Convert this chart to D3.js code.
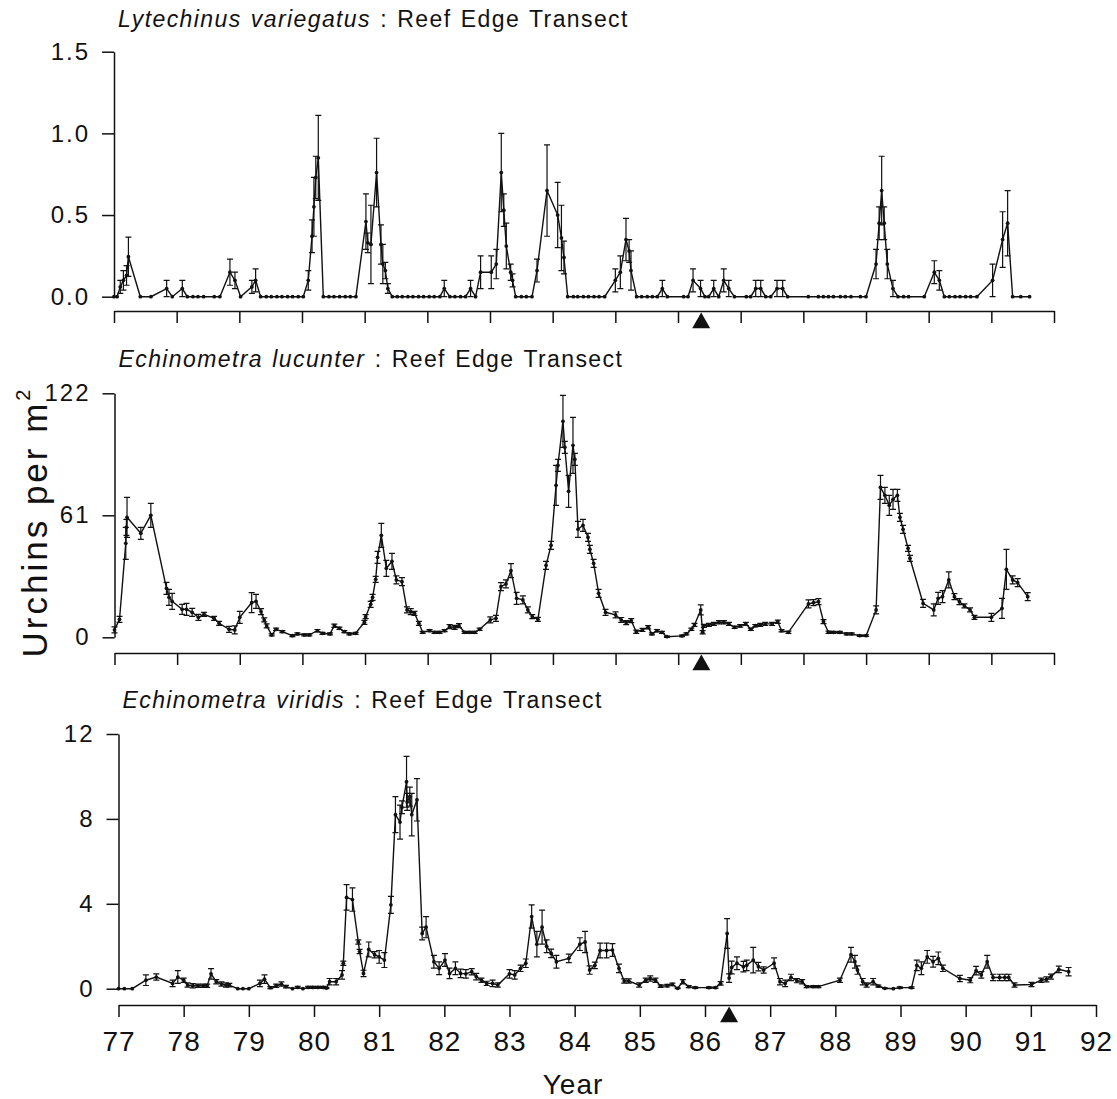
<!DOCTYPE html>
<html>
<head>
<meta charset="utf-8">
<script src="https://cdn.jsdelivr.net/npm/d3@7/dist/d3.min.js"></script>
<style>
  body { margin: 0; background: #fff; }
  text { font-family: "Liberation Sans", Arial, sans-serif; fill: #111; }
</style>
</head>
<body>
<div id="chart"></div>
<script>
const WIDTH = 1117;
const HEIGHT = 1099;

const years = d3.range(77, 93);
const eventYear = 86.37;   // filled triangle under each x axis

// [year, mean, standard error]
const lytechinus = [
  [77.00,0,0],[77.05,0,0],[77.10,0.06,0.04],[77.15,0.10,0.06],[77.20,0.13,0.06],[77.23,0.245,0.12],
  [77.42,0,0],[77.59,0,0],[77.84,0.05,0.05],[77.93,0,0],[78.09,0.05,0.05],[78.17,0,0],[78.26,0,0],
  [78.34,0,0],[78.43,0,0],[78.60,0,0],[78.69,0,0],[78.85,0.15,0.08],[78.93,0.10,0.05],[79.02,0,0],
  [79.20,0.06,0.04],[79.26,0.10,0.07],[79.34,0,0],[79.43,0,0],[79.51,0,0],[79.60,0,0],[79.68,0,0],
  [79.77,0,0],[79.85,0,0],[79.94,0,0],[80.02,0,0],[80.10,0.10,0.06],[80.16,0.37,0.10],[80.19,0.55,0.18],
  [80.22,0.73,0.13],[80.26,0.85,0.26],[80.34,0,0],[80.43,0,0],[80.51,0,0],[80.60,0,0],[80.69,0,0],
  [80.77,0,0],[80.86,0,0],[81.02,0.46,0.17],[81.05,0.33,0.06],[81.10,0.32,0.24],[81.19,0.76,0.21],
  [81.26,0.32,0.12],[81.29,0.20,0.12],[81.33,0.16,0.05],[81.37,0.05,0.03],[81.44,0,0],[81.52,0,0],
  [81.60,0,0],[81.69,0,0],[81.77,0,0],[81.86,0,0],[81.94,0,0],[82.03,0,0],[82.11,0,0],[82.20,0,0],
  [82.27,0.05,0.05],[82.36,0,0],[82.44,0,0],[82.53,0,0],[82.61,0,0],[82.69,0.05,0.05],[82.77,0,0],
  [82.85,0.15,0.10],[83.02,0.15,0.10],[83.10,0.20,0.09],[83.18,0.76,0.24],[83.22,0.53,0.10],
  [83.26,0.31,0.14],[83.33,0.15,0.05],[83.36,0.10,0.04],[83.41,0,0],[83.50,0,0],[83.58,0,0],
  [83.67,0,0],[83.75,0.16,0.07],[83.91,0.65,0.28],[84.08,0.50,0.20],[84.14,0.36,0.20],[84.18,0.24,0.10],
  [84.24,0,0],[84.33,0,0],[84.40,0,0],[84.49,0,0],[84.57,0,0],[84.66,0,0],[84.74,0,0],[84.83,0,0],
  [85.00,0.10,0.07],[85.08,0.15,0.10],[85.17,0.35,0.13],[85.22,0.28,0.07],[85.25,0.16,0.12],[85.34,0,0],
  [85.42,0,0],[85.51,0,0],[85.59,0,0],[85.67,0,0],[85.75,0.05,0.05],[85.83,0,0],[86.09,0,0],[86.16,0,0],
  [86.24,0.10,0.07],[86.36,0.05,0.05],[86.43,0,0],[86.49,0,0],[86.57,0.05,0.05],[86.65,0,0],
  [86.73,0.10,0.07],[86.81,0.05,0.05],[86.90,0,0],[87.09,0,0],[87.16,0,0],[87.24,0.05,0.05],
  [87.32,0.05,0.05],[87.40,0,0],[87.48,0,0],[87.58,0.05,0.05],[87.67,0.05,0.05],[87.75,0,0],
  [88.08,0,0],[88.24,0,0],[88.32,0,0],[88.40,0,0],[88.48,0,0],[88.59,0,0],[88.67,0,0],[88.76,0,0],
  [88.91,0,0],[89.00,0,0],[89.16,0.20,0.09],[89.21,0.45,0.10],[89.25,0.65,0.21],[89.29,0.45,0.10],
  [89.34,0.20,0.09],[89.43,0.05,0.05],[89.51,0,0],[89.60,0,0],[89.68,0,0],[89.93,0,0],
  [90.09,0.15,0.07],[90.17,0.10,0.06],[90.25,0,0],[90.33,0,0],[90.42,0,0],[90.50,0,0],[90.59,0,0],
  [90.67,0,0],[90.77,0,0],[91.02,0.10,0.10],[91.18,0.35,0.17],[91.26,0.45,0.20],[91.34,0,0],
  [91.47,0,0],[91.61,0,0]
];

const lucunter = [
  [77.00,3.7,1.5],[77.08,9,1.5],[77.18,47,8],[77.19,55,4],[77.20,60,10],[77.42,52,3],[77.58,61,6],
  [77.83,24.5,3],[77.87,20,4],[77.92,18,4],[78.08,14,2.5],[78.15,14,3],[78.24,12.5,2],[78.34,10,1.5],
  [78.43,11.5,1],[78.59,9.5,1],[78.67,7,1],[78.83,4,1.5],[78.92,3.7,2],[79.00,10,3],[79.19,17.3,5],
  [79.26,18,3.5],[79.34,12.8,1.5],[79.39,8.7,1],[79.43,5.7,1],[79.51,1.2,0.5],[79.58,4,0.6],
  [79.68,2.8,0.5],[79.84,0.8,0.5],[79.92,1.7,0.5],[80.03,1.2,0.5],[80.11,1.2,0.5],[80.24,3.3,0.6],
  [80.32,2,0.5],[80.44,1.7,0.5],[80.51,5.8,0.8],[80.59,4.5,0.6],[80.67,2.8,0.5],[80.75,1.7,0.5],
  [80.85,2,0.5],[80.99,7.5,1],[81.01,10.3,1],[81.09,16.5,1.5],[81.12,20,1.5],[81.17,29,1.5],
  [81.20,40,3],[81.26,51,6],[81.34,34.5,4],[81.43,38,4],[81.50,28.7,2],[81.59,27.8,2],[81.67,13.7,1.5],
  [81.73,12.8,1.5],[81.79,12,1],[81.86,7,1],[81.92,2.5,0.5],[82.03,3.3,0.5],[82.11,2.5,0.5],
  [82.19,2.5,0.5],[82.27,3.3,0.5],[82.35,5.3,1],[82.43,5,1],[82.50,5.8,1],[82.59,2.5,0.5],
  [82.67,2.5,0.5],[82.75,2.5,0.5],[82.83,4,0.6],[83.00,8.7,1.5],[83.09,9.5,1.5],[83.17,25.3,2],
  [83.25,26.7,2],[83.33,33.3,3.5],[83.42,19.5,3],[83.52,18.7,2],[83.60,13.7,1.5],[83.67,10.3,1],
  [83.76,9,1],[83.89,36,2],[83.97,46,2],[84.05,76,10],[84.08,86,3],[84.16,108,13],[84.19,95,3],
  [84.25,73,8],[84.32,96,14],[84.35,89,3],[84.40,54,4],[84.48,56,3],[84.56,50,2],[84.59,44,2],
  [84.65,37,2],[84.73,22,2],[84.84,12.5,1.5],[85.00,11.2,1.5],[85.09,8.7,1.2],[85.17,7.3,1],
  [85.25,8.3,1],[85.33,2.8,0.8],[85.43,3.7,0.8],[85.52,5,0.8],[85.58,1.7,0.5],[85.66,3.3,0.6],
  [85.74,2.5,0.5],[85.82,0.3,0.3],[86.06,0.7,0.4],[86.13,1.7,0.5],[86.21,4,0.6],[86.26,6.2,0.8],
  [86.36,13.7,2.5],[86.39,2.5,0.8],[86.41,5.7,0.8],[86.49,6.2,0.8],[86.57,6.7,0.8],[86.65,7.5,0.8],
  [86.73,7.5,0.8],[86.81,6.7,0.8],[86.90,5,0.6],[86.99,5.7,0.6],[87.08,6.7,0.8],[87.16,4,0.6],
  [87.23,5.8,0.6],[87.31,6.2,0.8],[87.39,6.7,0.8],[87.50,6.7,0.8],[87.59,7.8,0.8],[87.65,3.3,0.6],
  [87.76,2.5,0.6],[88.08,16.7,2],[88.16,17.3,1.5],[88.24,17.8,1.5],[88.32,7.8,1],[88.40,2.5,0.6],
  [88.48,2.5,0.5],[88.58,2.5,0.5],[88.69,1.7,0.5],[88.77,1.7,0.5],[88.90,0.8,0.4],[89.00,0.8,0.4],
  [89.16,13.7,2],[89.23,75,6],[89.30,71,4],[89.37,66,5],[89.43,69,5],[89.50,71,3],[89.54,60,2],
  [89.59,54,2],[89.67,44.5,1.5],[89.70,39.5,1.5],[89.91,17,2],[90.08,13.7,3],[90.15,19.5,3],
  [90.22,20.3,3],[90.32,28.7,4],[90.41,20.3,1.5],[90.49,17.8,1.5],[90.57,15.7,1],[90.66,13.7,1],
  [90.73,10,1],[91.00,10,2],[91.17,14.5,5],[91.24,34,10],[91.34,28.7,2],[91.42,27.3,2],[91.58,20.3,2]
];

const viridis = [
  [77.00,0,0],[77.09,0,0],[77.21,0,0],[77.42,0.4,0.25],[77.58,0.55,0.15],[77.83,0.25,0.15],
  [77.91,0.55,0.3],[78.00,0.4,0.1],[78.06,0.17,0.1],[78.14,0.14,0.1],[78.22,0.14,0.08],[78.30,0.14,0.08],
  [78.36,0.14,0.08],[78.42,0.7,0.25],[78.50,0.33,0.1],[78.58,0.22,0.1],[78.65,0.17,0.1],[78.70,0.17,0.08],
  [78.83,0,0],[78.91,0,0],[79.00,0,0],[79.17,0.25,0.15],[79.24,0.45,0.2],[79.33,0.05,0.05],
  [79.42,0.14,0.08],[79.50,0.22,0.1],[79.57,0.1,0.06],[79.67,0,0],[79.75,0.06,0.05],[79.83,0,0],
  [79.91,0.06,0.05],[79.98,0.06,0.05],[80.06,0.06,0.05],[80.14,0.06,0.05],[80.19,0.03,0.03],
  [80.24,0.33,0.15],[80.34,0.33,0.15],[80.43,0.65,0.2],[80.45,1.2,0.1],[80.50,4.3,0.6],[80.59,4.2,0.55],
  [80.68,2.2,0.1],[80.70,1.75,0.1],[80.76,0.72,0.15],[80.84,1.85,0.35],[80.93,1.6,0.15],[81.00,1.5,0.3],
  [81.08,1.35,0.35],[81.18,3.95,0.4],[81.25,8.2,0.85],[81.32,7.85,0.8],[81.35,8.55,0.3],[81.42,9.75,1.2],
  [81.43,8.8,0.4],[81.47,9.05,0.45],[81.50,8.2,1.0],[81.58,8.9,1.0],[81.66,2.6,0.3],[81.72,2.9,0.5],
  [81.84,1.27,0.3],[81.92,0.96,0.3],[82.01,1.35,0.3],[82.08,0.72,0.25],[82.17,0.96,0.3],[82.25,0.72,0.2],
  [82.33,0.7,0.2],[82.42,0.8,0.15],[82.49,0.57,0.15],[82.57,0.4,0.1],[82.65,0.25,0.1],[82.74,0.25,0.15],
  [82.82,0.17,0.1],[83.00,0.7,0.2],[83.08,0.65,0.2],[83.17,0.96,0.15],[83.25,1.2,0.2],[83.34,3.4,0.55],
  [83.42,2.1,0.6],[83.50,2.9,0.8],[83.57,2.0,0.3],[83.64,1.66,0.2],[83.72,1.27,0.3],[83.91,1.43,0.2],
  [84.08,2.1,0.3],[84.16,2.2,0.5],[84.23,0.88,0.2],[84.31,1.1,0.15],[84.39,1.8,0.35],[84.49,1.8,0.35],
  [84.58,1.82,0.3],[84.68,0.96,0.2],[84.76,0.36,0.1],[84.83,0.36,0.1],[84.99,0.17,0.1],[85.09,0.4,0.1],
  [85.16,0.48,0.12],[85.24,0.4,0.1],[85.32,0.12,0.06],[85.42,0.14,0.06],[85.50,0.2,0.06],[85.58,0.02,0.02],
  [85.66,0.33,0.1],[85.75,0.1,0.05],[85.85,0.05,0.04],[86.06,0.05,0.04],[86.16,0.05,0.04],[86.24,0.25,0.08],
  [86.34,2.6,0.7],[86.37,0.5,0.2],[86.41,1.0,0.3],[86.49,1.2,0.3],[86.59,1.04,0.25],[86.64,1.1,0.25],
  [86.74,1.35,0.6],[86.82,1.04,0.2],[86.90,0.88,0.15],[87.06,1.2,0.25],[87.15,0.33,0.15],[87.23,0.25,0.15],
  [87.32,0.53,0.15],[87.41,0.38,0.1],[87.49,0.33,0.1],[87.56,0.1,0.05],[87.66,0.1,0.05],[87.74,0.1,0.05],
  [88.07,0.4,0.1],[88.24,1.6,0.35],[88.30,1.27,0.3],[88.34,0.88,0.2],[88.42,0.33,0.15],[88.48,0.17,0.1],
  [88.58,0.33,0.15],[88.66,0.12,0.05],[88.76,0.02,0.02],[88.89,0,0],[88.99,0.05,0.04],[89.17,0.05,0.04],
  [89.25,1.1,0.25],[89.32,0.96,0.3],[89.41,1.5,0.3],[89.50,1.27,0.25],[89.58,1.43,0.3],[89.65,0.96,0.15],
  [89.91,0.48,0.15],[90.07,0.4,0.12],[90.16,0.85,0.2],[90.24,0.65,0.15],[90.33,1.27,0.3],[90.42,0.53,0.15],
  [90.52,0.53,0.15],[90.60,0.53,0.15],[90.66,0.53,0.15],[90.75,0.17,0.1],[91.01,0.2,0.1],[91.16,0.4,0.1],
  [91.24,0.44,0.12],[91.31,0.57,0.12],[91.43,0.91,0.15],[91.58,0.8,0.2]
];

const panels = [
  { species: "Lytechinus variegatus", sep: " :  ", data: lytechinus,
    yMax: 1.5, yTicks: [0, 0.5, 1, 1.5], fmt: d3.format(".1f"),
    left: 114, right: 1054, top: 51.7, bottom: 296.7, axisY: 311, titleY: 27, labels: false },
  { species: "Echinometra lucunter", sep: " :  ", data: lucunter,
    yMax: 122, yTicks: [0, 61, 122], fmt: d3.format("d"),
    left: 114.5, right: 1054, top: 393.3, bottom: 637.3, axisY: 653, titleY: 367, labels: false },
  { species: "Echinometra  viridis", sep: " : ", data: viridis,
    yMax: 12, yTicks: [0, 4, 8, 12], fmt: d3.format("d"),
    left: 118.5, right: 1096, top: 734, bottom: 988.7, axisY: 1005, titleY: 708, labels: true }
];

const svg = d3.select("#chart")
  .append("svg")
    .attr("width", WIDTH)
    .attr("height", HEIGHT);

panels.forEach((p) => {
  const x = d3.scaleLinear().domain([77, 92]).range([p.left, p.right]);
  const y = d3.scaleLinear().domain([0, p.yMax]).range([p.bottom, p.top]);
  const g = svg.append("g");

  // title
  const title = g.append("text")
    .attr("x", p.left + 4)
    .attr("y", p.titleY)
    .attr("font-size", 23)
    .attr("letter-spacing", 1.4)
    .attr("word-spacing", 1.5);
  title.append("tspan").attr("font-style", "italic").text(p.species);
  title.append("tspan").text(p.sep + "Reef Edge Transect");

  // y axis
  const yAxis = g.append("g")
    .attr("transform", `translate(${p.left},0)`)
    .call(d3.axisLeft(y).tickValues(p.yTicks).tickFormat(p.fmt).tickSize(12).tickSizeOuter(0).tickPadding(12));
  yAxis.selectAll("text").attr("font-size", 24).attr("letter-spacing", 2).style("font-family", "Liberation Sans, Arial, sans-serif");

  // x axis
  const xAxis = g.append("g")
    .attr("transform", `translate(0,${p.axisY})`)
    .call(d3.axisBottom(x).tickValues(years).tickSize(12).tickSizeOuter(0).tickPadding(14)
      .tickFormat(p.labels ? d3.format("d") : ""));
  xAxis.selectAll("text").attr("font-size", 28).attr("letter-spacing", 1).style("font-family", "Liberation Sans, Arial, sans-serif");

  g.selectAll(".domain, .tick line").attr("stroke", "#111").attr("stroke-width", 1.5);

  // error bars
  const withErr = p.data.filter((d) => d[2] > 0);
  g.selectAll(".err")
    .data(withErr)
    .enter()
    .append("path")
      .attr("class", "err")
      .attr("fill", "none")
      .attr("stroke", "#111")
      .attr("stroke-width", 1.2)
      .attr("d", (d) => {
        const cx = x(d[0]);
        const y0 = y(Math.max(0, d[1] - d[2]));
        const y1 = y(d[1] + d[2]);
        return `M${cx - 3},${y0}H${cx + 3}M${cx},${y0}V${y1}M${cx - 3},${y1}H${cx + 3}`;
      });

  // mean line
  g.append("path")
    .datum(p.data)
    .attr("fill", "none")
    .attr("stroke", "#111")
    .attr("stroke-width", 1.4)
    .attr("d", d3.line().x((d) => x(d[0])).y((d) => y(d[1])));

  g.selectAll(".pt")
    .data(p.data)
    .enter()
    .append("circle")
      .attr("class", "pt")
      .attr("fill", "#111")
      .attr("cx", (d) => x(d[0]))
      .attr("cy", (d) => y(d[1]))
      .attr("r", 1.9);

  // event marker
  g.append("path")
    .attr("d", d3.symbol(d3.symbolTriangle, 140)())
    .attr("fill", "#111")
    .attr("transform", `translate(${x(eventYear)},${p.axisY + 12})`);
});

// shared axis titles
svg.append("text")
  .attr("x", 573)
  .attr("y", 1094)
  .attr("text-anchor", "middle")
  .attr("font-size", 28)
  .attr("letter-spacing", 1)
  .text("Year");

const yLabel = svg.append("text")
  .attr("transform", "translate(47,522) rotate(-90)")
  .attr("text-anchor", "middle")
  .attr("font-size", 35)
  .attr("letter-spacing", 3);
yLabel.append("tspan").text("Urchins per m");
yLabel.append("tspan").attr("font-size", 20).attr("dy", -17).text("2");
</script>
</body>
</html>
